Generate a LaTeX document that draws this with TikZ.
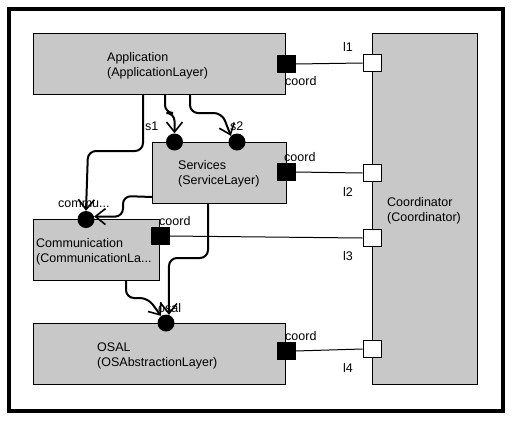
\documentclass[tikz,border=0pt]{standalone}
\usepackage{fontspec}
\setmainfont{Liberation Sans}
\usetikzlibrary{arrows.meta}
\definecolor{boxgray}{RGB}{200,200,200}
\tikzset{
  box/.style={draw=black, fill=boxgray, line width=1pt, anchor=north west, inner sep=0pt},
  txt/.style={inner sep=0pt, anchor=base west, align=left, font=\fontsize{12.5}{15}\selectfont},
  bport/.style={draw=black, fill=black, minimum width=18pt, minimum height=17pt, inner sep=0pt},
  wport/.style={draw=black, fill=white, line width=1pt, minimum width=18pt, minimum height=17pt, inner sep=0pt},
  cport/.style={circle, fill=black, minimum size=17pt, inner sep=0pt},
  conn/.style={line width=2pt, rounded corners=8pt, -{Straight Barb[length=10pt,width=16pt,line width=1.6pt]}},
  link/.style={line width=1pt}
}
\begin{document}
\begin{tikzpicture}[x=1pt,y=-1pt]
\useasboundingbox (0,0) rectangle (514,421);
\fill[white] (0,0) rectangle (514,421);
\draw[line width=4pt] (8.7,8.7) rectangle (502.5,411.3);

% boxes
\node[box, minimum width=252pt, minimum height=61pt] (app) at (33,33) {};
\node[box, minimum width=134pt, minimum height=61pt] (serv) at (152,142) {};
\node[box, minimum width=126pt, minimum height=61pt] (comm) at (33,219) {};
\node[box, minimum width=252pt, minimum height=61pt] (osal) at (33,323) {};
\node[box, minimum width=105pt, minimum height=351pt] (coor) at (372,33) {};

% box texts (anchor = baseline of the last line)
\node[txt] (apptxt) at (107,76) {Application\\(ApplicationLayer)};
\node[txt] (servtxt) at (178,184) {Services\\(ServiceLayer)};
\node[txt] (commtxt) at (36,262) {Communication\\(CommunicationLa...};
\node[txt] (osaltxt) at (97,366) {OSAL\\(OSAbstractionLayer)};
\node[txt] (coortxt) at (387,221) {Coordinator\\(Coordinator)};

% coord ports
\node[bport] (appC) at (286,64) {};
\node[bport] (servC) at (286,172) {};
\node[bport] (commC) at (160,236) {};
\node[bport] (osalC) at (286,351) {};
\node[wport] (l1p) at (372,63) {};
\node[wport] (l2p) at (372,173) {};
\node[wport] (l3p) at (372,238) {};
\node[wport] (l4p) at (372,349) {};

% links
\draw[link] (appC.east) -- (l1p.west);
\draw[link] (servC.east) -- (l2p.west);
\draw[link] (commC.east) -- (l3p.west);
\draw[link] (osalC.east) -- (l4p.west);

% service ports
\node[cport] (s1) at (174.5,142) {};
\node[cport] (s2) at (237,142) {};
\node[cport] (commu) at (86,219.5) {};
\node[cport] (osalp) at (166,323) {};

% labels
\node[txt] (lab1) at (343,51) {l1};
\node[txt] (lab2) at (343,196) {l2};
\node[txt] (lab3) at (343,260) {l3};
\node[txt] (lab4) at (343,372) {l4};
\node[txt] (cl1) at (285,85) {coord};
\node[txt] (cl2) at (284,161) {coord};
\node[txt] (cl3) at (159,225) {coord};
\node[txt] (cl4) at (285,340) {coord};
\node[txt] (s1l) at (145,130) {s1};
\node[txt] (s2l) at (230,130) {s2};
\node[txt] (commul) at (58,207) {commu...};
\node[txt] (osall) at (158,312) {osal};

% connectors
\draw[conn] ([xshift=110pt]app.south west) -- (143,151) -- (88,151) -- (commu.north);
\draw[conn] ([xshift=132pt]app.south west) -- (165,113) -- (174.5,113) -- (s1.north);
\draw[conn] ([xshift=157pt]app.south west) -- (190,113) -- (222,113) -- (s2.north west);
\draw[conn] ([yshift=7pt]serv.south west) -- (123,196) -- (123,216.6) -- (commu.20);
\draw[conn] ([xshift=56pt]serv.south west) -- (208,258) -- (169,258) -- (osalp.70);
\draw[conn] ([xshift=93pt]comm.south west) -- (126,298) -- (148,298) -- (osalp.125);
\end{tikzpicture}
\end{document}
